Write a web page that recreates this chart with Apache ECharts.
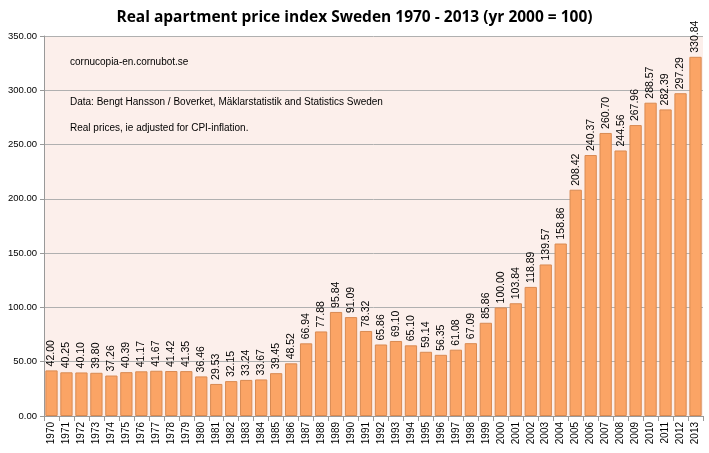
<!DOCTYPE html>
<html>
<head>
<meta charset="utf-8">
<script src="https://cdn.jsdelivr.net/npm/echarts@6/dist/echarts.min.js"></script>
<style>
html,body{margin:0;padding:0;background:#fff;}
#chart{width:709px;height:453px;}
</style>
</head>
<body>
<div id="chart"></div>
<script type="text/javascript">
// years and index values (yr 2000 = 100)
var years = ['1970','1971','1972','1973','1974','1975','1976','1977','1978','1979',
	'1980','1981','1982','1983','1984','1985','1986','1987','1988','1989',
	'1990','1991','1992','1993','1994','1995','1996','1997','1998','1999',
	'2000','2001','2002','2003','2004','2005','2006','2007','2008','2009',
	'2010','2011','2012','2013'];
var priceIndex = [42.00,40.25,40.10,39.80,37.26,40.39,41.17,41.67,41.42,41.35,
	36.46,29.53,32.15,33.24,33.67,39.45,48.52,66.94,77.88,95.84,
	91.09,78.32,65.86,69.10,65.10,59.14,56.35,61.08,67.09,85.86,
	100.00,103.84,118.89,139.57,158.86,208.42,240.37,260.70,244.56,267.96,
	288.57,282.39,297.29,330.84];
var notes = ['cornucopia-en.cornubot.se',
	'Data: Bengt Hansson / Boverket, Mäklarstatistik and Statistics Sweden',
	'Real prices, ie adjusted for CPI-inflation.'];

var chart = echarts.init(document.getElementById('chart'));
var font = 'Liberation Sans';

chart.setOption({
	animation: false,
	title: {
		text: 'Real apartment price index Sweden 1970 - 2013 (yr 2000 = 100)',
		left: 'center',
		top: 5,
		textStyle: {fontFamily: 'Open Sans', fontSize: 15.5, fontWeight: 'bold', color: '#000'}
	},
	grid: {left: 44, right: 6, top: 36, bottom: 37, backgroundColor: '#fcefeb', show: true, borderWidth: 0},
	xAxis: {
		type: 'category',
		data: years,
		axisLine: {lineStyle: {color: '#999'}},
		axisTick: {show: true, alignWithLabel: false, lineStyle: {color: '#999'}},
		axisLabel: {rotate: 90, fontSize: 10, fontFamily: font, color: '#000', margin: 6, interval: 0}
	},
	yAxis: {
		type: 'value',
		min: 0, max: 350, interval: 50,
		axisLine: {show: true, lineStyle: {color: '#999'}},
		axisTick: {show: true, length: 4, lineStyle: {color: '#999'}},
		splitLine: {lineStyle: {color: '#b0b0b0', width: 1}},
		axisLabel: {fontSize: 9.5, fontFamily: font, color: '#000', margin: 7,
			formatter: function(v){ return v.toFixed(2); }}
	},
	series: [{
		type: 'bar',
		data: priceIndex,
		barCategoryGap: '18%',
		itemStyle: {color: '#fba465', borderColor: '#d98a52', borderWidth: 1},
		label: {
			show: true, position: 'top', rotate: 90, align: 'left', verticalAlign: 'middle',
			distance: 4, fontSize: 10.5, fontFamily: font, color: '#000',
			formatter: function(p){ return p.value.toFixed(2); }
		}
	}],
	graphic: [
		{type: 'text', left: 70, top: 57, style: {text: notes[0], font: '10px "Liberation Sans"', fill: '#000'}},
		{type: 'text', left: 70, top: 97, style: {text: notes[1], font: '10px "Liberation Sans"', fill: '#000'}},
		{type: 'text', left: 70, top: 123, style: {text: notes[2], font: '10px "Liberation Sans"', fill: '#000'}}
	]
});
</script>
</body>
</html>
